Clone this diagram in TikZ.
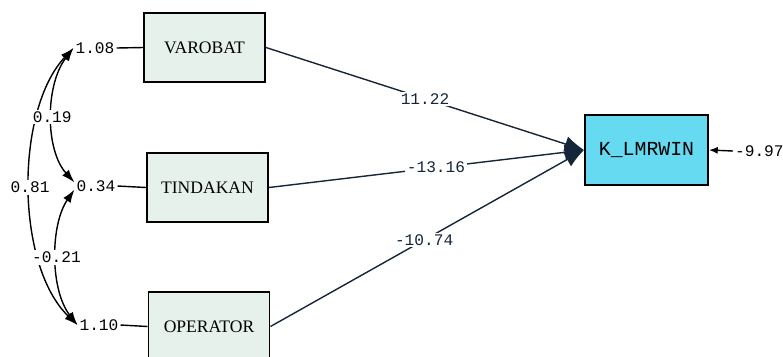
\documentclass[tikz,border=0pt]{standalone}
\usepackage{fontspec}
\setmainfont{Liberation Serif}
\setmonofont{Liberation Mono}
\usetikzlibrary{arrows.meta}

\definecolor{boxfill}{HTML}{E6F1EC}
\definecolor{kfill}{HTML}{66DAF0}
\definecolor{tipblue}{HTML}{15253A}

\begin{document}
\begin{tikzpicture}[x=0.02cm, y=-0.02cm,
    varbox/.style={draw, line width=1.1pt, fill=boxfill, minimum width=2.42cm, minimum height=1.38cm, font=\fontsize{10}{12}\selectfont},
    num/.style={font=\ttfamily\fontsize{9.2}{11}\selectfont, inner sep=1pt},
    lbl/.style={num, fill=white},
    path/.style={line width=0.8pt, -{Latex[length=11pt, width=9pt]}, color=tipblue},
    cov/.style={line width=0.8pt, {Latex[length=7.5pt, width=5pt]}-{Latex[length=7.5pt, width=5pt]}}]
  \useasboundingbox (0,0) rectangle (783,356);
  \clip (0,0) rectangle (783,356);

  % observed variables
  \node[varbox] (varobat) at (204.5,47.5) {VAROBAT};
  \node[varbox] (tindakan) at (207.5,187.5) {TINDAKAN};
  \node[varbox] (operator) at (209,326.5) {OPERATOR};
  \node[varbox, fill=kfill, minimum width=2.46cm, minimum height=1.4cm,
        font=\ttfamily\fontsize{11.3}{13}\selectfont] (klmrwin) at (646.5,150) {K\_LMRWIN};

  % variances
  \node[num] (v1) at (95,48) {1.08};
  \node[num] (v2) at (96,186) {0.34};
  \node[num] (v3) at (99,325) {1.10};
  \draw[line width=0.8pt] (v1.east) -- (varobat.west);
  \draw[line width=0.8pt] (v2.east) -- (tindakan.west);
  \draw[line width=0.8pt] (v3.east) -- (operator.west);

  % covariances
  \draw[cov] (v1.west) .. controls (15,110) and (15,265) .. node[lbl, pos=0.5] {0.81} (v3.west);
  \draw[cov] (v1.west) .. controls (45,85) and (45,150) .. node[lbl, pos=0.5] {0.19} ([yshift=2pt]v2.west);
  \draw[cov] ([yshift=-2pt]v2.west) .. controls (50,225) and (50,290) .. node[lbl, pos=0.5] {-0.21} (v3.west);

  % paths
  \draw[path] (varobat.east) -- node[lbl, pos=0.5] {11.22} (klmrwin.west);
  \draw[path] (tindakan.east) -- node[lbl, pos=0.53] {-13.16} (klmrwin.west);
  \draw[path] (operator.east) -- node[lbl, pos=0.49] {-10.74} (klmrwin.west);

  % error
  \node[num, anchor=west] (err) at (733,151) {-9.97};
  \draw[line width=0.8pt, -{Latex[length=5pt, width=4pt]}] (err.west) -- (klmrwin.east);
\end{tikzpicture}
\end{document}
